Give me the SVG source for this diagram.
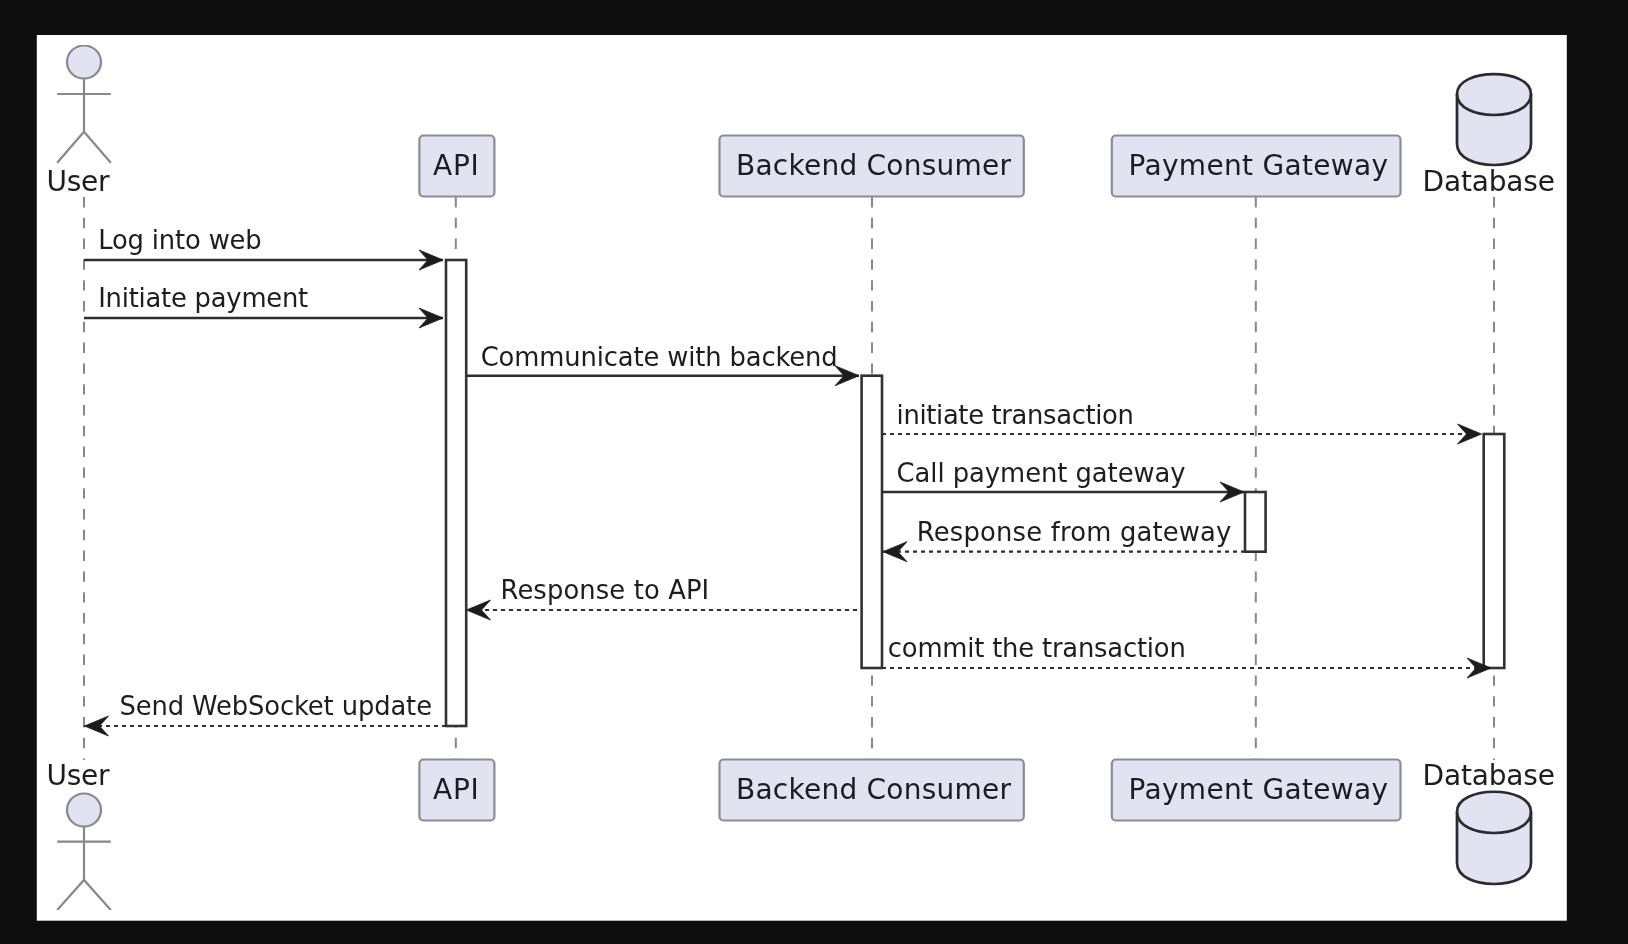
<svg xmlns="http://www.w3.org/2000/svg" width="1628" height="944" viewBox="0 0 1628 944">
<style>
text{font-family:"DejaVu Sans","Liberation Sans",sans-serif;fill:#1c1c20}
.p{font-size:28px}
.m{font-size:25.8px}
.box{fill:#E2E2F0;stroke:#8c8c94;stroke-width:2.2}
.act{fill:none;stroke:#888;stroke-width:2.2}
.head{fill:#E2E2F0;stroke:#88888e;stroke-width:2.2}
.db{fill:#E2E2F0;stroke:#2c2c30;stroke-width:2.7}
.life{stroke:#888;stroke-width:2;stroke-dasharray:10.4 10.4;fill:none}
.bar{fill:#fff;stroke:#333;stroke-width:2.6}
.s{stroke:#2e2e2e;stroke-width:2.6;fill:none;marker-end:url(#ah)}
.d{stroke:#2e2e2e;stroke-width:2.2;stroke-dasharray:4 4;fill:none;marker-end:url(#ah)}
</style>
<defs>
<marker id="ah" markerUnits="userSpaceOnUse" markerWidth="28" markerHeight="26" viewBox="0 0 28 26" refX="25" refY="13" orient="auto">
<polygon points="1,3 25,13 1,23 10,13" fill="#1c1c1c" stroke="#1c1c1c" stroke-width="0.8"/>
</marker>
<filter id="soft" x="0" y="0" width="100%" height="100%"><feGaussianBlur stdDeviation="0.75"/></filter>
</defs>
<rect width="1628" height="944" fill="#0e0e0e"/>
<rect x="36.8" y="35" width="1530" height="885.7" fill="#fff"/>
<g filter="url(#soft)">
<g id="connectors">
<path class="life" d="M84 197V760M455.8 197V760M872 197V760M1255.8 197V760M1494 197V760"/>
<rect class="bar" x="446" y="260" width="20.2" height="466"/>
<rect class="bar" x="861.6" y="375.7" width="20.4" height="292.3"/>
<rect class="bar" x="1245" y="492" width="20.6" height="59.7"/>
<rect class="bar" x="1483.7" y="434" width="20.6" height="234"/>
<line class="s" x1="84" y1="260" x2="443" y2="260"/>
<line class="s" x1="84" y1="318" x2="443" y2="318"/>
<line class="s" x1="466.2" y1="375.7" x2="859" y2="375.7"/>
<line class="d" x1="882" y1="434" x2="1481.5" y2="434"/>
<line class="s" x1="882" y1="492" x2="1244" y2="492"/>
<line class="d" x1="1245" y1="551.7" x2="883" y2="551.7"/>
<line class="d" x1="857" y1="610" x2="466.5" y2="610"/>
<line class="d" x1="882" y1="668" x2="1491" y2="668"/>
<line class="d" x1="446" y1="726" x2="84.5" y2="726"/>
<text class="m" x="98.2" y="249" textLength="163.5">Log into web</text>
<text class="m" x="98.2" y="307" textLength="210">Initiate payment</text>
<text class="m" x="480.7" y="366" textLength="357">Communicate with backend</text>
<text class="m" x="896.6" y="424" textLength="237.3">initiate transaction</text>
<text class="m" x="896.6" y="482" textLength="289">Call payment gateway</text>
<text class="m" x="916.8" y="541" textLength="314.6">Response from gateway</text>
<text class="m" x="500.5" y="599" textLength="208.7">Response to API</text>
<text class="m" x="887.8" y="657" textLength="298">commit the transaction</text>
<text class="m" x="119.5" y="715" textLength="312.5">Send WebSocket update</text>
</g>
<g id="user">
<ellipse class="head" cx="84" cy="62" rx="17" ry="16.5"/>
<path class="act" d="M84 78.5V131.7M57.2 94H110.8M57.2 162.7L84 131.7L110.8 162.7"/>
<text class="p" x="46.5" y="190.7" textLength="63">User</text>
<text class="p" x="46.5" y="785" textLength="63">User</text>
<ellipse class="head" cx="84" cy="810" rx="17" ry="16.5"/>
<path class="act" d="M84 826.5V880M57.2 841.7H110.8M57.2 910L84 880L110.8 910"/>
</g>
<g id="api">
<rect class="box" x="419.4" y="135.5" width="75" height="61" rx="4"/>
<text class="p" x="433" y="175" textLength="45.8">API</text>
<rect class="box" x="419.4" y="759.5" width="75" height="61" rx="4"/>
<text class="p" x="433" y="798.7" textLength="45.8">API</text>
</g>
<g id="backend">
<rect class="box" x="719.5" y="135.5" width="304.3" height="61" rx="4"/>
<text class="p" x="736" y="175" textLength="275">Backend Consumer</text>
<rect class="box" x="719.5" y="759.5" width="304.3" height="61" rx="4"/>
<text class="p" x="736" y="798.7" textLength="275">Backend Consumer</text>
</g>
<g id="gateway">
<rect class="box" x="1111.8" y="135.5" width="288.7" height="61" rx="4"/>
<text class="p" x="1128.5" y="175" textLength="259.6">Payment Gateway</text>
<rect class="box" x="1111.8" y="759.5" width="288.7" height="61" rx="4"/>
<text class="p" x="1128.5" y="798.7" textLength="259.6">Payment Gateway</text>
</g>
<g id="database">
<path class="db" d="M1457 94C1457 67.500 1531 67.500 1531 94V144C1531 172 1457 172 1457 144Z"/>
<path class="db" style="fill:none" d="M1457 94C1457 122 1531 122 1531 94"/>
<text class="p" x="1422.500" y="190.7" textLength="132.500">Database</text>
<text class="p" x="1422.500" y="785" textLength="132.500">Database</text>
<path class="db" d="M1457 812C1457 785 1531 785 1531 812V863C1531 891 1457 891 1457 863Z"/>
<path class="db" style="fill:none" d="M1457 812C1457 840 1531 840 1531 812"/>
</g>
</g>
</svg>
